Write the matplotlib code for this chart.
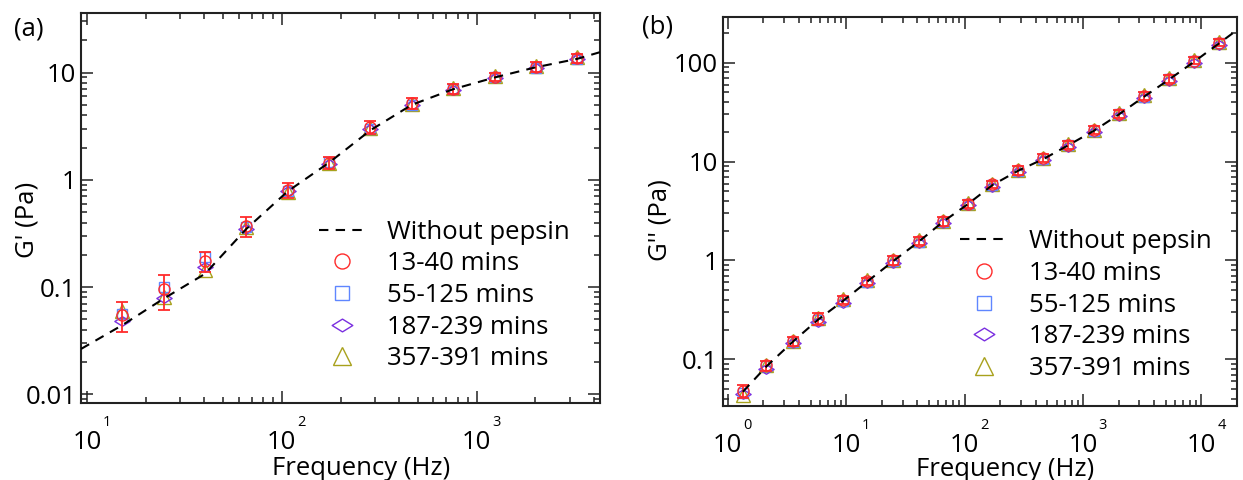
import matplotlib
matplotlib.use('Agg')
import matplotlib.pyplot as plt
from matplotlib.path import Path
from matplotlib.transforms import blended_transform_factory, offset_copy

plt.rcParams['font.family'] = ['Open Sans', 'DejaVu Sans']
plt.rcParams['font.size'] = 18.5

# ---- panel (a): G' ----
freq_a = [15.1, 24.7, 40.3, 65.8, 107, 175, 285, 464, 758, 1236, 2010, 3270]
gp_13_40 = [0.055, 0.095, 0.175, 0.37, 0.80, 1.45, 3.10, 5.2, 7.1, 9.1, 11.3, 13.6]
gp_err_13_40 = [0.017, 0.034, 0.036, 0.079, 0.13, 0.20, 0.40, 0.65, 0.75, 0.8, 1.2, 1.4]
gp_55_125 = [0.056, 0.100, 0.190, 0.36, 0.79, 1.46, 3.00, 5.0, 7.0, 9.0, 11.1, 13.5]
gp_187_239 = [0.048, 0.079, 0.155, 0.35, 0.78, 1.42, 2.95, 4.95, 6.9, 8.9, 11.0, 13.3]
gp_357_391 = [0.060, 0.080, 0.145, 0.36, 0.77, 1.43, 3.05, 5.1, 7.2, 9.3, 11.5, 14.0]
nopep_f_a = [9.3, 15.1, 24.7, 40.3, 65.8, 107, 175, 285, 464, 758, 1236, 2010, 3270, 4300]
nopep_g_a = [0.0265, 0.044, 0.078, 0.133, 0.35, 0.78, 1.45, 2.9, 5.0, 7.0, 9.0, 11.2, 13.4, 15.5]

# ---- panel (b): G'' ----
freq_b = [1.34, 2.12, 3.52, 5.73, 9.40, 15.0, 24.8, 41.0, 65.3, 106, 172, 284,
          462, 748, 1236, 2010, 3250, 5370, 8750, 14100]
gpp_13_40 = [0.048, 0.087, 0.152, 0.26, 0.40, 0.62, 1.00, 1.58, 2.48, 3.75, 5.9, 8.2,
             10.8, 14.8, 20.8, 30.5, 46, 69, 105, 160]
gpp_err_13_40 = [0.007, 0.010, 0.015, 0.035, 0.04, 0.05, 0.10, 0.15, 0.25, 0.35, 0.5, 0.8,
                 1.0, 1.4, 2.0, 3.0, 4.5, 6.5, 9, 14]
gpp_55_125 = [0.046, 0.085, 0.150, 0.25, 0.39, 0.61, 0.98, 1.55, 2.45, 3.70, 5.8, 8.1,
              10.6, 14.6, 20.5, 30, 45, 68, 103, 157]
gpp_187_239 = [0.045, 0.080, 0.145, 0.24, 0.37, 0.59, 0.95, 1.50, 2.38, 3.60, 5.6, 7.9,
               10.3, 14.2, 20.0, 29.2, 44, 66, 100, 152]
gpp_357_391 = [0.044, 0.088, 0.155, 0.26, 0.41, 0.63, 1.02, 1.60, 2.52, 3.80, 6.0, 8.3,
               11.0, 15.0, 21.0, 31, 47, 70, 107, 163]
nopep_f_b = [1.34, 2.12, 3.52, 5.73, 9.40, 15.0, 24.8, 41.0, 65.3, 106, 172, 284,
             462, 748, 1236, 2010, 3250, 5370, 8750, 14100, 20000]
nopep_g_b = [0.047, 0.085, 0.150, 0.25, 0.39, 0.61, 0.98, 1.55, 2.45, 3.70, 5.8, 8.1,
             10.6, 14.6, 20.5, 30, 45, 68, 103, 157, 214]

labels = ['13-40 mins', '55-125 mins', '187-239 mins', '357-391 mins']
colors = ['#ff2b2b', '#5f86ff', '#7a2fe0', '#a8a11c']

# flat diamond marker
flat_diamond = Path([(-1, 0), (0, 0.62), (1, 0), (0, -0.62), (-1, 0)],
                    [Path.MOVETO, Path.LINETO, Path.LINETO, Path.LINETO, Path.CLOSEPOLY])
markers = ['o', 's', flat_diamond, '^']
msizes = [8, 7.4, 11, 9.4]


def draw_panel(ax, freq, series, err, line_f, line_g):
    # draw in reverse so red ends on top
    for k in [3, 2, 1, 0]:
        ax.plot(freq, series[k], linestyle='none', marker=markers[k], ms=msizes[k],
                mfc='none', mec=colors[k], mew=1.0, label=labels[k], zorder=3 + 0.1 * (3 - k))
    ax.errorbar(freq, series[0], yerr=err, fmt='none', ecolor=colors[0],
                elinewidth=1.3, capsize=4.2, capthick=1.3, zorder=4)
    ax.plot(line_f, line_g, color='black', lw=1.5, dashes=(4.5, 3.5),
            label='Without pepsin', zorder=5)
    ax.set_xscale('log')
    ax.set_yscale('log')
    ax.tick_params(which='both', direction='in', top=True, right=True,
                   width=1.1, color='#222222')
    ax.tick_params(which='major', length=8.5)
    ax.tick_params(which='minor', length=4.3)
    ax.tick_params(axis='x', which='major', pad=19.5)
    ax.tick_params(axis='y', which='major', pad=3.5)
    for s in ax.spines.values():
        s.set_linewidth(1.5)
        s.set_color('#222222')


def decade_labels(ax, exps):
    ax.set_xticks([10.0 ** e for e in exps])
    ax.set_xticklabels(['10'] * len(exps))
    base = blended_transform_factory(ax.transData, ax.transAxes)
    tr = offset_copy(base, fig=ax.figure, x=20, y=-23, units='dots')
    for e in exps:
        ax.text(10.0 ** e, 0, str(e), transform=tr, fontsize=10.5,
                ha='center', va='baseline')


def legend(ax, anchor):
    h, l = ax.get_legend_handles_labels()
    order = [l.index('Without pepsin')] + [l.index(t) for t in labels]
    ax.legend([h[i] for i in order], [l[i] for i in order], loc='upper left',
              bbox_to_anchor=anchor, frameon=False, borderpad=0, borderaxespad=0,
              handlelength=1.85, handletextpad=0.8, labelspacing=0.26,
              markerscale=1.35, fontsize=18.5)


fig = plt.figure(figsize=(12.43, 4.8), dpi=100)

ax_a = fig.add_axes([81 / 1243, 77.3 / 480, 519 / 1243, 389.4 / 480])
draw_panel(ax_a, freq_a, [gp_13_40, gp_55_125, gp_187_239, gp_357_391],
           gp_err_13_40, nopep_f_a, nopep_g_a)
ax_a.set_xlim(9.3, 4300)
ax_a.set_ylim(0.00836, 35.7)
ax_a.set_yticks([0.01, 0.1, 1, 10])
ax_a.set_yticklabels(['0.01', '0.1', '1', '10'])
decade_labels(ax_a, [1, 2, 3])
ax_a.set_xlabel('Frequency (Hz)')
ax_a.xaxis.set_label_coords(0.54, -0.138)
ax_a.set_ylabel("G' (Pa)")
ax_a.yaxis.set_label_coords(-0.08, 0.47)
legend(ax_a, (0.458, 0.47))

ax_b = fig.add_axes([723 / 1243, 74.3 / 480, 514 / 1243, 388.4 / 480])
draw_panel(ax_b, freq_b, [gpp_13_40, gpp_55_125, gpp_187_239, gpp_357_391],
           gpp_err_13_40, nopep_f_b, nopep_g_b)
ax_b.set_xlim(0.91, 20000)
ax_b.set_ylim(0.034, 288)
ax_b.set_yticks([0.1, 1, 10, 100])
ax_b.set_yticklabels(['0.1', '1', '10', '100'])
decade_labels(ax_b, [0, 1, 2, 3, 4])
ax_b.set_xlabel('Frequency (Hz)')
ax_b.xaxis.set_label_coords(0.548, -0.132)
ax_b.set_ylabel("G'' (Pa)")
ax_b.yaxis.set_label_coords(-0.099, 0.478)
legend(ax_b, (0.462, 0.454))

fig.text(14 / 1243, 1 - 16 / 480, '(a)', ha='left', va='top', fontsize=18.5)
fig.text(642 / 1243, 1 - 14 / 480, '(b)', ha='left', va='top', fontsize=18.5)

fig.savefig('out.png', dpi=100)
